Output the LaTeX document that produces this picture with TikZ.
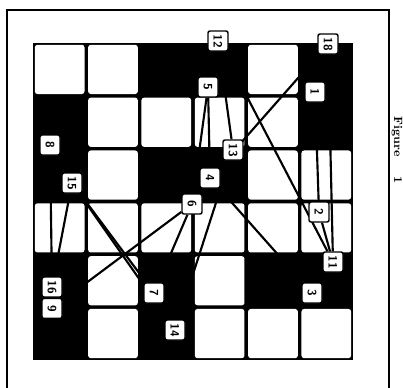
\documentclass[tikz,border=0pt]{standalone}
\usepackage{tikz}
\usetikzlibrary{backgrounds}

\begin{document}
\begin{tikzpicture}[x=0.75pt,y=-0.75pt,line width=1.3pt,
  lab/.style={draw,line width=1.1pt,rounded corners=1.5pt,fill=white,inner sep=1.5pt,minimum size=15pt,font=\small\bfseries\sffamily,rotate=-90},
  mv/.style={line width=1.6pt}]
  \useasboundingbox (0,0) rectangle (403,387);
  \draw[line width=1.5pt] (7,392) |- (389,10) -- (389,392);
  % board: black ground, white cells
  \begin{scope}[on background layer]
    \fill (33,43) rectangle (353,360);
    \foreach \c/\r in {1/1,2/1,5/1, 2/2,3/2,4/2,5/2, 2/3,5/3,6/3, 1/4,2/4,3/4,4/4,5/4,6/4, 2/5,4/5, 2/6,4/6,5/6,6/6}
      \fill[white,rounded corners=2pt] ({33+(\c-1)*53.33+1.8},{43+(\r-1)*52.83+1.8}) rectangle ++(49.7,49.2);
  \end{scope}
  % numbered squares
  \node[lab](n12) at (218,41){12};
  \node[lab](n18) at (328,44){18};
  \node[lab](n5) at (208,87){5};
  \node[lab](n1) at (315,92){1};
  \node[lab](n8) at (50,145){8};
  \node[lab](n13) at (233,150){13};
  \node[lab](n15) at (72,183){15};
  \node[lab](n4) at (210,178){4};
  \node[lab](n6) at (192,204){6};
  \node[lab](n2) at (319,212){2};
  \node[lab](n11) at (333,262){11};
  \node[lab](n16) at (52,287){16};
  \node[lab,anchor=west](n9) at (n16.east){9};
  \node[lab](n7) at (154,293){7};
  \node[lab](n3) at (312,293){3};
  \node[lab](n14) at (175,330){14};
  \node[rotate=-90,font=\small\bfseries](cap) at (397,150){Figure~~~~1};
  % moves
  \begin{scope}[on background layer]
    \draw[mv] (n18)--(n4);\draw[mv] (n18)--(n11);
    \draw[mv] (n5)--(n4);\draw[mv] (n5)--(n6);
    \draw[mv] (n12)--(n13);\draw[mv] (n12)--(n11);
    \draw[mv] (n1)--(n2);\draw[mv] (n2)--(n11);
    \draw[mv] (n6)--(n9);\draw[mv] (n6)--(n7);
    \draw[mv] (n15)--(n7);\draw[mv] (n15)--(n14);
    \draw[mv] (n8)--(n16);\draw[mv] (n15)--(n16);
    \draw[mv] (n13)--(n14);\draw[mv] (n4)--(n3);
  \end{scope}
\end{tikzpicture}
\end{document}
